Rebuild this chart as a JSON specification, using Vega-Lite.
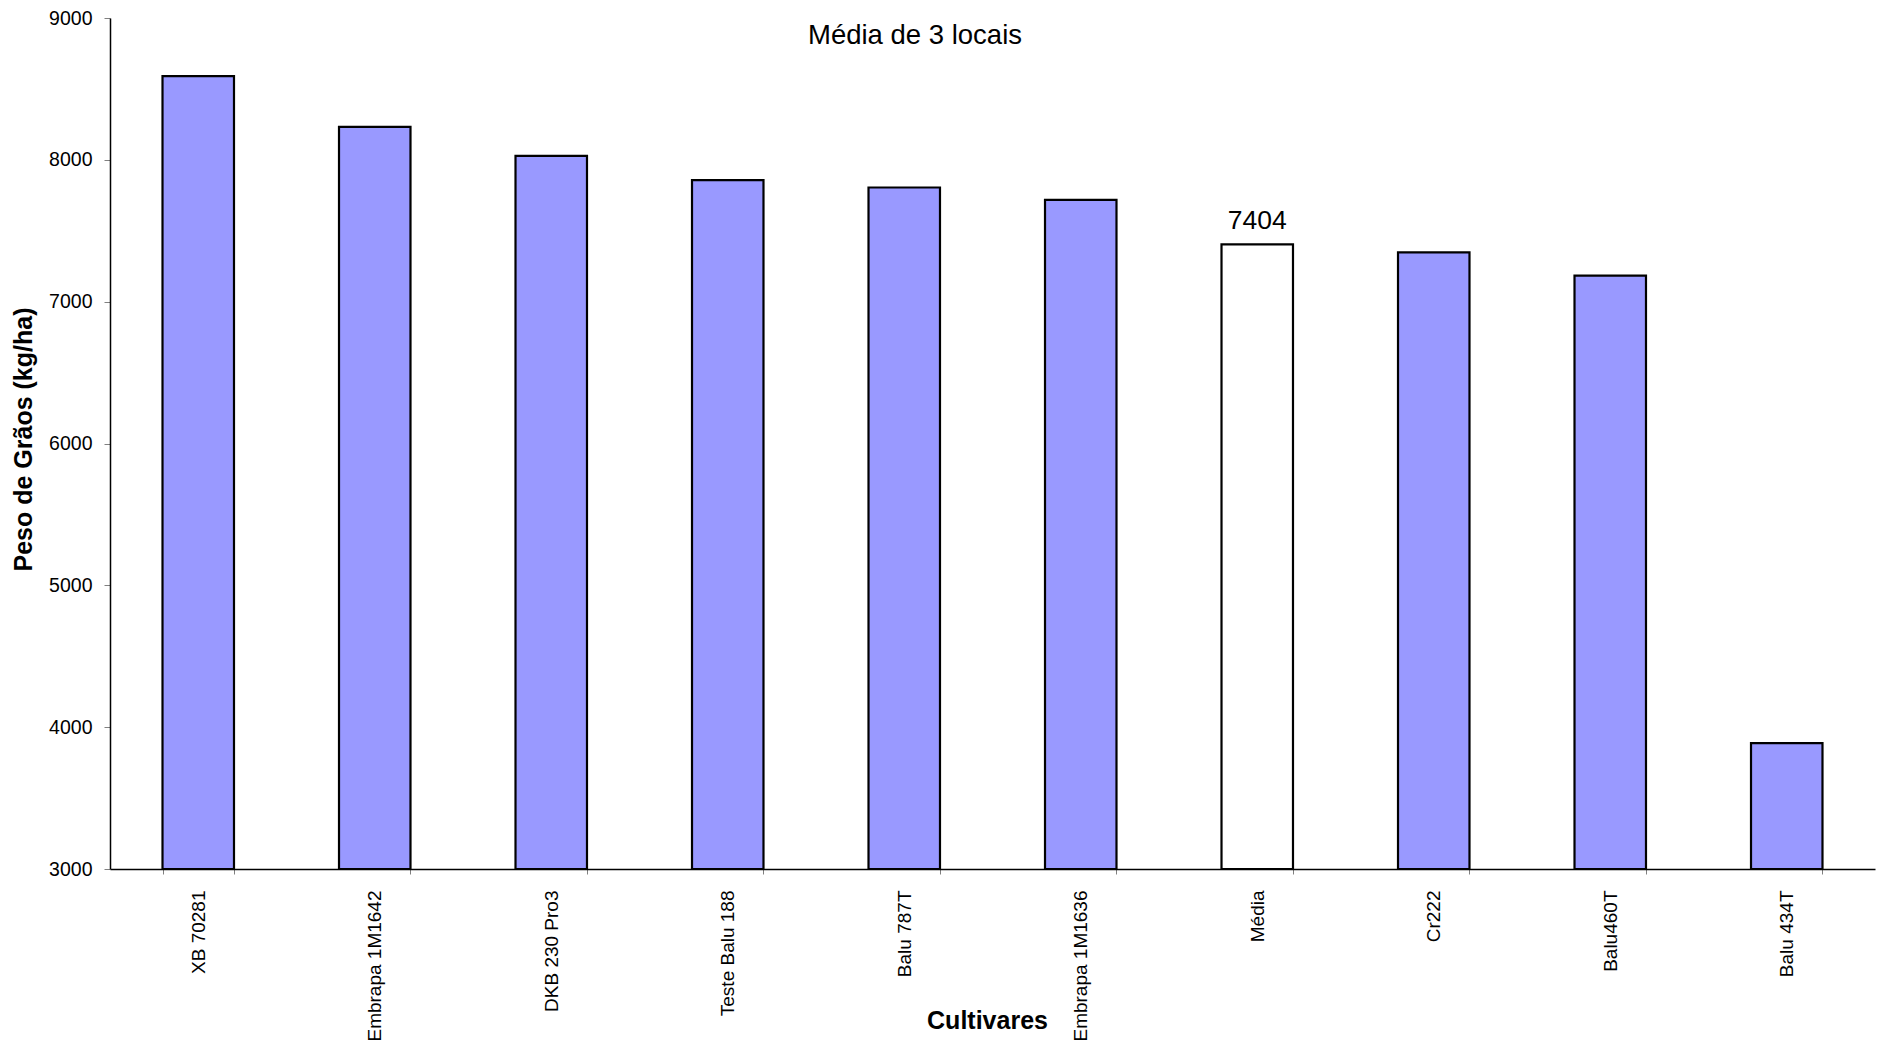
{
  "$schema": "https://vega.github.io/schema/vega-lite/v6.json",
  "width": 1765,
  "height": 851,
  "autosize": {"type": "none"},
  "padding": {"left": 110, "top": 18, "right": 8, "bottom": 179},
  "background": "white",
  "config": {"view": {"stroke": null}, "font": "Liberation Sans"},
  "title": {
    "text": "Média de 3 locais",
    "anchor": "start",
    "frame": "group",
    "dx": 698,
    "dy": 67,
    "fontSize": 27.5,
    "fontWeight": "normal",
    "font": "Liberation Sans",
    "color": "black",
    "baseline": "alphabetic"
  },
  "data": {
    "values": [
      {"cultivar": "XB 70281", "peso": 8590, "tipo": "cultivar"},
      {"cultivar": "Embrapa  1M1642", "peso": 8233, "tipo": "cultivar"},
      {"cultivar": "DKB 230 Pro3", "peso": 8028, "tipo": "cultivar"},
      {"cultivar": "Teste Balu 188", "peso": 7857, "tipo": "cultivar"},
      {"cultivar": "Balu 787T", "peso": 7805, "tipo": "cultivar"},
      {"cultivar": "Embrapa 1M1636", "peso": 7718, "tipo": "cultivar"},
      {"cultivar": "Média", "peso": 7404, "tipo": "media"},
      {"cultivar": "Cr222", "peso": 7347, "tipo": "cultivar"},
      {"cultivar": "Balu460T", "peso": 7183, "tipo": "cultivar"},
      {"cultivar": "Balu 434T", "peso": 3888, "tipo": "cultivar"}
    ]
  },
  "encoding": {
    "x": {
      "field": "cultivar",
      "type": "nominal",
      "sort": null,
      "scale": {"paddingInner": 0.595, "paddingOuter": 0.2975},
      "axis": {
        "labelAngle": -90,
        "labelFontSize": 19,
        "labelColor": "black",
        "labelPadding": 16,
        "tickSize": 5,
        "tickColor": "#808080",
        "tickBand": "extent",
        "domainColor": "black",
        "domainWidth": 1.5,
        "title": "Cultivares",
        "titleFontSize": 25,
        "titleFontWeight": "bold",
        "titleColor": "black",
        "titleX": 877,
        "titleAlign": "center",
        "titleY": 151,
        "titleBaseline": "middle"
      }
    },
    "y": {
      "field": "peso",
      "type": "quantitative",
      "scale": {"domain": [3000, 9000], "nice": false, "zero": false},
      "axis": {
        "values": [3000, 4000, 5000, 6000, 7000, 8000, 9000],
        "format": "d",
        "grid": false,
        "labelFontSize": 19.5,
        "labelColor": "black",
        "labelPadding": 12,
        "labelFlush": false,
        "tickSize": 6,
        "tickColor": "#808080",
        "domainColor": "black",
        "domainWidth": 1.5,
        "title": "Peso de Grãos (kg/ha)",
        "titleFontSize": 25,
        "titleFontWeight": "bold",
        "titleColor": "black",
        "titlePadding": 12,
        "titleY": 421,
        "titleAlign": "center"
      }
    }
  },
  "layer": [
    {
      "mark": {"type": "bar", "stroke": "black", "strokeWidth": 2.2},
      "encoding": {
        "y2": {"datum": 3000},
        "fill": {
          "field": "tipo",
          "type": "nominal",
          "scale": {"domain": ["cultivar", "media"], "range": ["#9999FF", "#FFFFFF"]},
          "legend": null
        }
      }
    },
    {
      "transform": [{"filter": "datum.tipo === 'media'"}],
      "mark": {"type": "text", "dy": -15, "baseline": "alphabetic", "fontSize": 26.5, "font": "Liberation Sans", "color": "black"},
      "encoding": {
        "text": {"field": "peso", "type": "quantitative", "format": "d"}
      }
    }
  ]
}
